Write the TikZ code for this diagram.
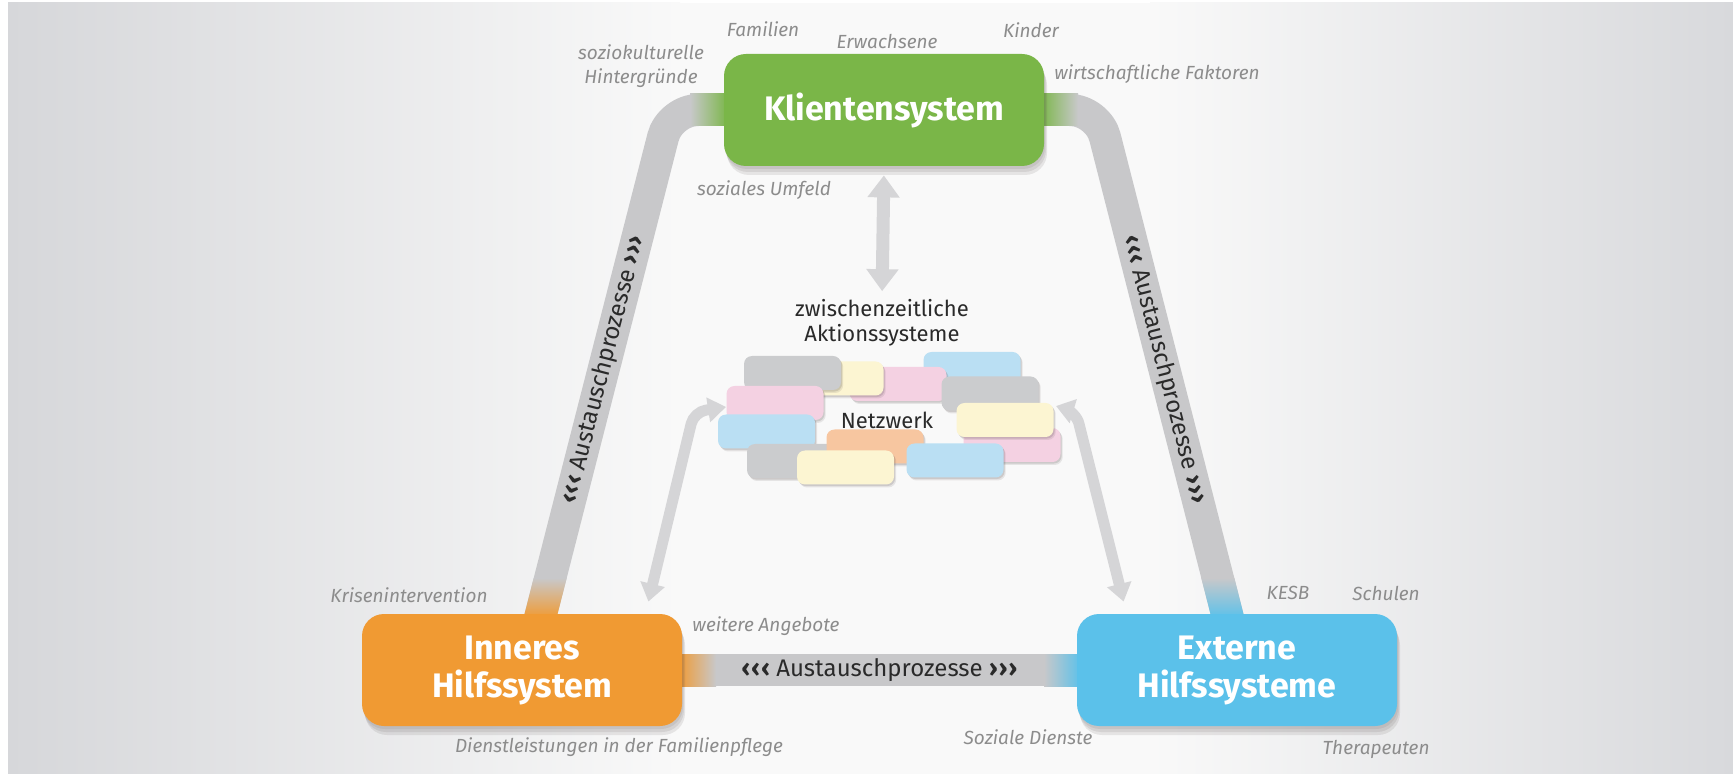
\documentclass[tikz,border=0pt]{standalone}
\usepackage{fontspec}
\setmainfont{Fira Sans}
\usetikzlibrary{calc,arrows.meta,shadows}
\pgfdeclarelayer{back}
\pgfdeclarelayer{bg}
\pgfsetlayers{back,bg,main}
\definecolor{bandgray}{HTML}{C8C8CA}
\definecolor{kgreen}{HTML}{7AB648}
\definecolor{korange}{HTML}{F09A33}
\definecolor{kblue}{HTML}{5BC1EA}
\definecolor{lblgray}{HTML}{8C8C8C}
\definecolor{arrgray}{HTML}{D5D5D7}
\definecolor{txtdark}{HTML}{2A2A2A}
\definecolor{rgray}{HTML}{CBCCCE}
\definecolor{rcream}{HTML}{FCF5D2}
\definecolor{rpink}{HTML}{F4D1E2}
\definecolor{rblue}{HTML}{BADFF3}
\definecolor{rpeach}{HTML}{F7C6A0}
\definecolor{bgedgeL}{HTML}{D6D7DA}
\definecolor{bgedgeR}{HTML}{D8D9DC}
\definecolor{bgmid}{HTML}{F9F9F9}
\definecolor{shadowcol}{HTML}{5A5050}
\tikzset{
  mainbox/.style={rounded corners=11pt, minimum width=160pt, minimum height=56pt, inner sep=0pt,
    text=white, font=\bfseries\fontsize{17}{19}\selectfont, align=center,
    general shadow={fill=shadowcol, opacity=0.10, shadow xshift=0.5pt, shadow yshift=-1.5pt},
    general shadow={fill=shadowcol, opacity=0.12, shadow xshift=1pt, shadow yshift=-3pt},
    general shadow={fill=shadowcol, opacity=0.12, shadow xshift=1.5pt, shadow yshift=-4.5pt}},
  lbl/.style={text=lblgray, font=\itshape\fontsize{9.5}{12}\selectfont, inner sep=1pt, align=center},
  band/.style={draw=bandgray, line width=16pt},
  chip/.style={rounded corners=4pt, minimum width=48.5pt, minimum height=17pt, inner sep=0pt,
    general shadow={fill=shadowcol, opacity=0.18, shadow xshift=0.6pt, shadow yshift=-0.8pt},
    general shadow={fill=shadowcol, opacity=0.12, shadow xshift=1.1pt, shadow yshift=-1.5pt}},
  bandtxt/.style={text=txtdark, font=\fontsize{12}{14}\selectfont, inner sep=0pt},
  bigarrow/.style={draw=arrgray, line width=6.5pt, {Triangle[width=15.5pt,length=11pt]}-{Triangle[width=15.5pt,length=11pt]}},
  bentarrow/.style={draw=arrgray, line width=5.5pt, rounded corners=6pt, {Triangle[width=12pt,length=9pt]}-{Triangle[width=12pt,length=9pt]}},
  midtxt/.style={text=txtdark, font=\fontsize{11}{12.5}\selectfont, align=center, inner sep=0pt}
}
\newcommand{\lchev}{\textbf{‹\kern0.6pt‹\kern0.6pt‹}}
\newcommand{\rchev}{\textbf{›\kern0.6pt›\kern0.6pt›}}
\begin{document}
\begin{tikzpicture}[x=0.5pt,y=-0.5pt]
\useasboundingbox (0,0) rectangle (1733,774);
\begin{pgfonlayer}{back}
  \fill[white] (0,0) rectangle (1733,774);
  \fill[bgmid] (8,3) rectangle (1733,774);
  \shade[left color=bgedgeL, right color=bgmid] (8,3) rectangle (680,774);
  \shade[left color=bgmid, right color=bgedgeR] (1150,3) rectangle (1733,774);
\end{pgfonlayer}

% main nodes
\node[mainbox, fill=kgreen] (klient) at (884,110) {Klientensystem};
\node[mainbox, fill=korange] (inneres) at (522,670) {Inneres\\Hilfssystem};
\node[mainbox, fill=kblue] (externe) at (1237,670) {Externe\\Hilfssysteme};

% band corners and ends
\coordinate (tl) at (670,110);
\coordinate (tr) at (1098,110);
\coordinate (lend) at ($(inneres.north)+(15,16)$);
\coordinate (rend) at ($(externe.north)+(-6,16)$);

\begin{pgfonlayer}{bg}
  \draw[band, rounded corners=14pt] (lend) -- (tl) -- (tr) -- (rend);
  \draw[band] (inneres.center) -- (externe.center);
  % colour fades into the boxes
  \shade[left color=bandgray, right color=kgreen] (690,94) rectangle (728,126);
  \shade[left color=kgreen, right color=bandgray] (1040,94) rectangle (1078,126);
  \shade[left color=korange, right color=bandgray] (678,654) rectangle (716,686);
  \shade[left color=bandgray, right color=kblue] (1044,654) rectangle (1081,686);
  \shade[top color=bandgray, bottom color=korange] (533.7,578) -- (566.7,578) -- (556.5,618) -- (523.5,618) -- cycle;
  \shade[top color=bandgray, bottom color=kblue] (1201.3,578) -- (1234.3,578) -- (1244.5,618) -- (1211.5,618) -- cycle;
\end{pgfonlayer}

% band texts
\path (tl) -- (lend) node[bandtxt, sloped, pos=0.5] (btl) {\lchev{} Austauschprozesse \rchev};
\path (tr) -- (rend) node[bandtxt, sloped, pos=0.5] (btr) {\lchev{} Austauschprozesse \rchev};
\node[bandtxt] (btb) at ($(inneres.east)!0.5!(externe.west)$) {\lchev{} Austauschprozesse \rchev};

% centre texts
\node[midtxt] (zwi) at (882,323) {zwischenzeitliche\\Aktionssysteme};

% arrows
\draw[bigarrow, shorten <=4.5pt, shorten >=4pt] (klient.south) -- (zwi.north);
\coordinate (lnet) at (726,407);
\coordinate (rnet) at (1056,406);
\draw[bentarrow] ($(inneres.north east)+(-34,-12)$) -- (694,412) -- (lnet);
\draw[bentarrow] ($(externe.north west)+(47,-12)$) -- (1076,412) -- (rnet);

% network chips (back to front)
\node[chip, fill=rblue]  (c4)  at (972,369) {};
\node[chip, fill=rpink]  (c3)  at (898,384) {};
\node[chip, fill=rcream] (c2)  at (835,378.5) {};
\node[chip, fill=rgray]  (c1)  at (792.5,373) {};
\node[chip, fill=rgray]  (c5)  at (990,393.5) {};
\node[chip, fill=rpink]  (c6)  at (775,403) {};
\node[chip, fill=rblue]  (c7)  at (766.5,431.5) {};
\node[chip, fill=rgray]  (c8)  at (795.5,461) {};
\node[chip, fill=rpeach] (c9)  at (875,446.5) {};
\node[chip, fill=rcream] (c10) at (845.5,467.5) {};
\node[chip, fill=rpink]  (c12) at (1012,445) {};
\node[chip, fill=rblue]  (c11) at (955,460.5) {};
\node[chip, fill=rcream] (c13) at (1005,420) {};
\node[midtxt] (netz) at (887,420) {Netzwerk};

% grey labels
\node[lbl] (kul) at (641,66) {soziokulturelle\\Hintergründe};
\node[lbl] (fam) at (763,29) {Familien};
\node[lbl] (erw) at (887,42) {Erwachsene};
\node[lbl] (kin) at (1031,30) {Kinder};
\node[lbl] (wir) at (1157,74) {wirtschaftliche Faktoren};
\node[lbl] (soz) at (764,190) {soziales Umfeld};
\node[lbl] (kri) at (409,595) {Krisenintervention};
\node[lbl] (wei) at (766,626) {weitere Angebote};
\node[lbl] (die) at (619,747) {Dienstleistungen in der Familienpflege};
\node[lbl] (sdi) at (1028,737) {Soziale Dienste};
\node[lbl] (kesb) at (1288,593) {KESB};
\node[lbl] (sch) at (1386,593) {Schulen};
\node[lbl] (the) at (1376,749) {Therapeuten};
\end{tikzpicture}
\end{document}
